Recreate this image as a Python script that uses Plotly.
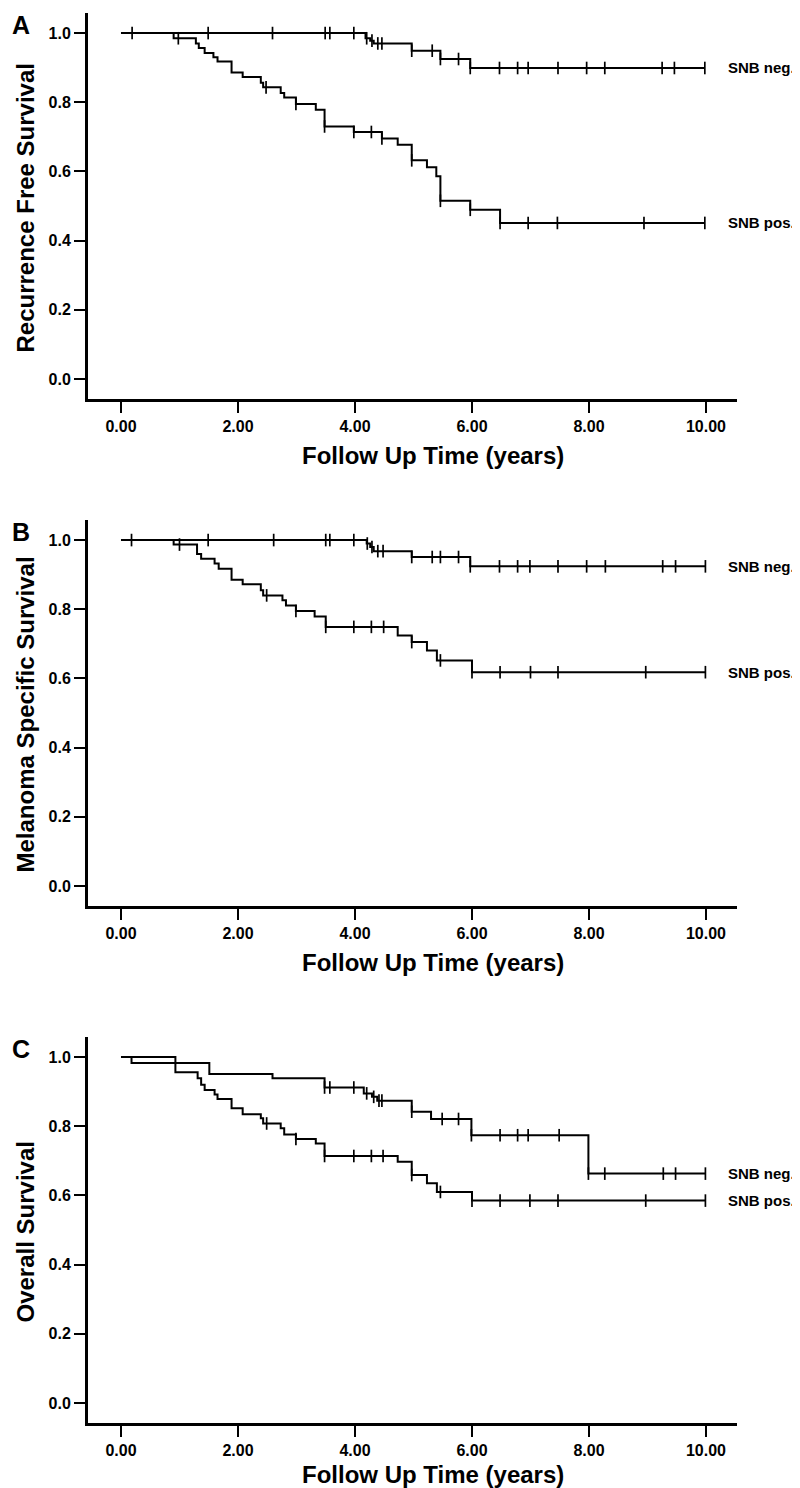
import numpy as np
import plotly.graph_objects as go

# ---------------- data ----------------
# Panel A: Recurrence free survival
a_neg_t = [4.18, 4.26, 4.32, 4.97, 5.46, 5.97]
a_neg_s = [0.985, 0.978, 0.970, 0.949, 0.925, 0.899]
a_neg_c = [0.19, 1.49, 2.59, 3.49, 3.57, 3.98, 4.20, 4.29, 4.39, 4.46, 4.97, 5.32,
           5.46, 5.77, 5.97, 6.47, 6.78, 6.96, 7.47, 7.96, 8.27, 9.25, 9.46, 9.98]
a_pos_t = [0.90, 1.28, 1.33, 1.43, 1.58, 1.65, 1.89, 2.08, 2.39, 2.43, 2.73, 2.79,
           2.99, 3.33, 3.48, 3.98, 4.46, 4.73, 4.97, 5.23, 5.39, 5.46, 5.97, 6.48]
a_pos_s = [0.985, 0.970, 0.957, 0.942, 0.930, 0.918, 0.886, 0.873, 0.856, 0.843, 0.827, 0.814,
           0.795, 0.778, 0.730, 0.714, 0.695, 0.677, 0.632, 0.612, 0.586, 0.515, 0.489, 0.451]
a_pos_c = [0.98, 2.48, 2.99, 3.48, 3.98, 4.28, 4.46, 4.97, 5.46, 5.97, 6.48, 6.96, 7.46, 8.94, 9.98]

# Panel B: Melanoma specific survival
b_neg_t = [4.20, 4.26, 4.32, 4.97, 5.97]
b_neg_s = [0.990, 0.980, 0.968, 0.951, 0.924]
b_neg_c = [0.18, 1.49, 2.61, 3.50, 3.57, 3.98, 4.21, 4.29, 4.39, 4.48, 4.97, 5.32,
           5.46, 5.77, 5.97, 6.47, 6.78, 6.99, 7.47, 7.96, 8.28, 9.26, 9.48, 9.99]
b_pos_t = [0.90, 1.30, 1.37, 1.60, 1.67, 1.89, 2.08, 2.39, 2.43, 2.76, 2.82, 2.99,
           3.31, 3.50, 4.73, 4.97, 5.23, 5.40, 6.00]
b_pos_s = [0.987, 0.960, 0.946, 0.932, 0.917, 0.885, 0.872, 0.855, 0.840, 0.826, 0.811, 0.795,
           0.779, 0.749, 0.724, 0.705, 0.681, 0.652, 0.618]
b_pos_c = [1.00, 2.49, 2.99, 3.50, 3.98, 4.28, 4.49, 4.97, 5.46, 6.00, 6.48, 7.00, 7.47, 8.97, 9.99]

# Panel C: Overall survival
c_neg_t = [0.18, 1.51, 2.59, 3.48, 4.15, 4.29, 4.38, 4.97, 5.30, 5.99, 7.99]
c_neg_s = [0.983, 0.951, 0.939, 0.912, 0.895, 0.885, 0.874, 0.842, 0.821, 0.774, 0.663]
c_neg_c = [3.48, 3.57, 3.98, 4.20, 4.32, 4.41, 4.46, 4.97, 5.49, 5.77, 5.99, 6.48,
           6.78, 6.96, 7.49, 7.99, 8.27, 9.27, 9.48, 9.99]
c_pos_t = [0.93, 1.31, 1.37, 1.43, 1.60, 1.65, 1.89, 2.08, 2.39, 2.43, 2.73, 2.79,
           2.99, 3.33, 3.48, 4.73, 4.97, 5.23, 5.40, 6.00]
c_pos_s = [0.956, 0.939, 0.920, 0.905, 0.892, 0.879, 0.852, 0.835, 0.823, 0.808, 0.794, 0.776,
           0.763, 0.750, 0.714, 0.697, 0.659, 0.635, 0.610, 0.585]
c_pos_c = [2.49, 2.99, 3.48, 3.98, 4.28, 4.48, 4.97, 5.46, 6.00, 6.48, 6.99, 7.47, 8.97, 9.99]

panel_letters = ["A", "B", "C"]
y_titles = ["Recurrence Free Survival", "Melanoma Specific Survival", "Overall Survival"]
x_title = "Follow Up Time (years)"
group_labels = ["SNB neg.", "SNB pos."]
x_ticks = [0, 2, 4, 6, 8, 10]
y_ticks = [0.0, 0.2, 0.4, 0.6, 0.8, 1.0]

panels = [
    dict(neg=(a_neg_t, a_neg_s, a_neg_c), pos=(a_pos_t, a_pos_s, a_pos_c)),
    dict(neg=(b_neg_t, b_neg_s, b_neg_c), pos=(b_pos_t, b_pos_s, b_pos_c)),
    dict(neg=(c_neg_t, c_neg_s, c_neg_c), pos=(c_pos_t, c_pos_s, c_pos_c)),
]

# ---------------- layout geometry (pixels) ----------------
W, H = 800, 1488
PX_L, PX_R = 80, 729
TOPS = [5, 512, 1029]
PH = 386
FONT = "Liberation Sans, Arial, Helvetica, sans-serif"


def step_value(times, surv, t):
    idx = np.searchsorted(np.asarray(times), t, side="right") - 1
    return 1.0 if idx < 0 else surv[idx]


fig = go.Figure()
annotations = []
layout_axes = {}

for i, p in enumerate(panels):
    n = "" if i == 0 else str(i + 1)
    xa, ya = "x" + n, "y" + n
    top = TOPS[i]
    bottom = top + PH
    for key in ("neg", "pos"):
        times, surv, cens = p[key]
        end = max(cens[-1], times[-1])
        xs = [0.0] + list(times) + [end]
        ys = [1.0] + list(surv) + [surv[-1]]
        fig.add_trace(go.Scatter(x=xs, y=ys, mode="lines", line=dict(color="black", width=2, shape="hv"),
                                 xaxis=xa, yaxis=ya, showlegend=False, hoverinfo="skip"))
        cy = [step_value(times, surv, c) for c in cens]
        fig.add_trace(go.Scatter(x=cens, y=cy, mode="markers",
                                 marker=dict(symbol="line-ns", size=9, color="black",
                                             line=dict(color="black", width=1.7)),
                                 xaxis=xa, yaxis=ya, showlegend=False, hoverinfo="skip"))
        label = group_labels[0] if key == "neg" else group_labels[1]
        annotations.append(dict(text="<b>%s</b>" % label, xref="paper", yref=ya, x=718 / W, y=surv[-1],
                                xanchor="left", yanchor="middle", showarrow=False,
                                font=dict(family=FONT, size=15, color="black")))

    layout_axes["xaxis" + n] = dict(
        domain=[PX_L / W, PX_R / W], range=[-0.564, 10.53], anchor=ya,
        showline=True, linewidth=3, linecolor="black", ticks="outside", ticklen=11, tickwidth=2,
        tickcolor="black", tickvals=x_ticks, tickformat=".2f", showgrid=False, zeroline=False,
        tickfont=dict(family=FONT, size=16, color="black", weight="bold"))
    layout_axes["yaxis" + n] = dict(
        domain=[1 - bottom / H, 1 - top / H], range=[-0.058, 1.058], anchor=xa,
        showline=True, linewidth=3, linecolor="black", ticks="outside", ticklen=11, tickwidth=2,
        tickcolor="black", tickvals=y_ticks, tickformat=".1f", showgrid=False, zeroline=False,
        tickfont=dict(family=FONT, size=16, color="black", weight="bold"))

    # panel letter
    annotations.append(dict(text="<b>%s</b>" % panel_letters[i], xref="paper", yref="paper",
                            x=13 / W, y=1 - (top + 12) / H, xanchor="center", yanchor="middle",
                            showarrow=False, font=dict(family=FONT, size=25, color="black")))
    # y title
    annotations.append(dict(text="<b>%s</b>" % y_titles[i], xref="paper", yref="paper",
                            x=1 / W, y=1 - (top + PH / 2 + 2) / H, xanchor="left", yanchor="middle",
                            textangle=-90, showarrow=False, font=dict(family=FONT, size=24, color="black")))
    # x title
    title_y = min(bottom + 56, H - 22)
    annotations.append(dict(text="<b>%s</b>" % x_title, xref="paper", yref="paper",
                            x=425 / W, y=1 - title_y / H, xanchor="center", yanchor="middle",
                            showarrow=False, font=dict(family=FONT, size=24, color="black")))

fig.update_layout(
    width=W, height=H, margin=dict(l=0, r=0, t=0, b=0),
    paper_bgcolor="white", plot_bgcolor="white",
    annotations=annotations, **layout_axes,
)

fig.write_html("out.html")
